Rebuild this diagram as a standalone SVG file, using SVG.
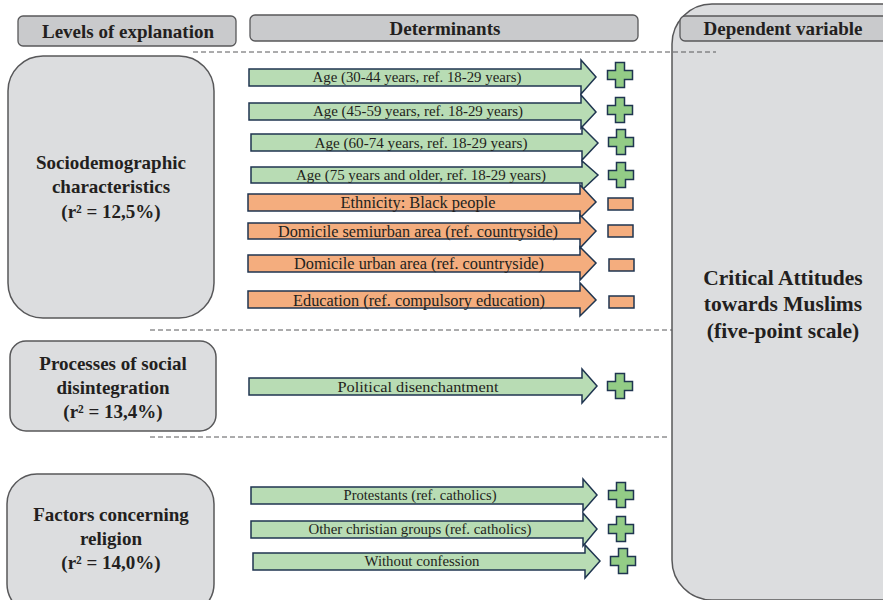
<svg xmlns="http://www.w3.org/2000/svg" width="883" height="600" viewBox="0 0 883 600">
<style>
.bg{fill:#dcdddf;stroke:#58585a;stroke-width:1.5}
.hd{fill:#c9cacc;stroke:#58585a;stroke-width:1.3}
.dash{stroke:#58585a;stroke-width:1;stroke-dasharray:5 3;fill:none}
.ga{fill:#b8dcb4;stroke:#1f3550;stroke-width:1.5;stroke-linejoin:miter}
.oa{fill:#f4ad7e;stroke:#1f3550;stroke-width:1.5;stroke-linejoin:miter}
.plus{fill:#93cc86;stroke:#1f3550;stroke-width:1.5}
.minus{fill:#f4ad7e;stroke:#1f3550;stroke-width:1.5}
.t{font-family:"Liberation Serif","Times New Roman",serif;fill:#231f20;text-anchor:middle}
.b{font-weight:bold}
.s13{font-size:14px}
.s14{font-size:15px}
.s15{font-size:16px}
.h{font-size:19px}
.l{font-size:19px}
.x{font-size:21.5px}
</style>
<defs>
<polygon id="plus" class="plus" points="-4.5,-12.5 4.5,-12.5 4.5,-4.5 12.5,-4.5 12.5,4.5 4.5,4.5 4.5,12.5 -4.5,12.5 -4.5,4.5 -12.5,4.5 -12.5,-4.5 -4.5,-4.5"/>
</defs>

<g id="dependent-variable">
<rect class="bg" x="672" y="4" width="260" height="596" rx="40"/>
<rect class="hd" x="680" y="16" width="215" height="25" rx="5"/>
<text class="t b h" x="783" y="35">Dependent variable</text>
<text class="t b x" x="783" y="285">Critical Attitudes</text>
<text class="t b x" x="783" y="311">towards Muslims</text>
<text class="t b x" x="783" y="338">(five-point scale)</text>
</g>

<g id="header-levels">
<rect class="hd" x="18" y="16" width="218" height="30" rx="5"/>
<text class="t b h" x="128" y="38">Levels of explanation</text>
</g>
<g id="header-determinants">
<rect class="hd" x="250" y="15" width="388" height="26" rx="5"/>
<text class="t b h" x="445" y="35">Determinants</text>
</g>

<g id="connectors">
<line class="dash" x1="193" y1="52" x2="716" y2="52"/>
<line class="dash" x1="150" y1="330" x2="672" y2="330"/>
<line class="dash" x1="150" y1="437" x2="668" y2="437"/>
</g>

<g id="level-sociodemographic">
<rect class="bg" x="8" y="56" width="206" height="262" rx="35"/>
<text class="t b l" x="111" y="169">Sociodemographic</text>
<text class="t b l" x="111" y="193">characteristics</text>
<text class="t b l" x="111" y="218">(r² = 12,5%)</text>
</g>
<g id="level-social-disintegration">
<rect class="bg" x="10" y="341" width="206" height="90" rx="16"/>
<text class="t b l" x="113" y="370">Processes of social</text>
<text class="t b l" x="113" y="394">disintegration</text>
<text class="t b l" x="113" y="418">(r² = 13,4%)</text>
</g>
<g id="level-religion">
<rect class="bg" x="7" y="474" width="207" height="140" rx="30"/>
<text class="t b l" x="111" y="521">Factors concerning</text>
<text class="t b l" x="111" y="545">religion</text>
<text class="t b l" x="111" y="569">(r² = 14,0%)</text>
</g>

<g id="det-age-30-44">
<polygon class="ga" points="249,69 581,69 581,60 596,77 581,94 581,86 249,86"/>
<text class="t s13" x="417" y="82" textLength="209" lengthAdjust="spacingAndGlyphs">Age (30-44 years, ref. 18-29 years)</text>
<use href="#plus" x="620" y="75"/>
</g>
<g id="det-age-45-59">
<polygon class="ga" points="249,103 581,103 581,95 596,112 581,128 581,120 249,120"/>
<text class="t s13" x="418" y="116" textLength="210" lengthAdjust="spacingAndGlyphs">Age (45-59 years, ref. 18-29 years)</text>
<use href="#plus" x="620" y="110"/>
</g>
<g id="det-age-60-74">
<polygon class="ga" points="251,134 582,134 582,127 598,143 582,160 582,151 251,151"/>
<text class="t s13" x="421" y="148" textLength="213" lengthAdjust="spacingAndGlyphs">Age (60-74  years, ref. 18-29 years)</text>
<use href="#plus" x="621" y="142"/>
</g>
<g id="det-age-75">
<polygon class="ga" points="251,167 582,167 582,161 598,175 582,190 582,183 251,183"/>
<text class="t s13" x="421" y="180" textLength="250" lengthAdjust="spacingAndGlyphs">Age (75 years and older, ref. 18-29 years)</text>
<use href="#plus" x="621" y="175"/>
</g>
<g id="det-ethnicity">
<polygon class="oa" points="248,194 580,194 580,185 596,202 580,218 580,211 248,211"/>
<text class="t s15" x="418" y="208" textLength="155" lengthAdjust="spacingAndGlyphs">Ethnicity:  Black people</text>
<rect class="minus" x="608" y="198" width="25" height="12"/>
</g>
<g id="det-semiurban">
<polygon class="oa" points="248,223 580,223 580,215 596,231 580,248 580,239 248,239"/>
<text class="t s15" x="418" y="237" textLength="280" lengthAdjust="spacingAndGlyphs">Domicile semiurban area (ref. countryside)</text>
<rect class="minus" x="608" y="225" width="25" height="12"/>
</g>
<g id="det-urban">
<polygon class="oa" points="248,255 580,255 580,247 596,263 580,280 580,272 248,272"/>
<text class="t s15" x="419" y="269" textLength="250" lengthAdjust="spacingAndGlyphs">Domicile urban area (ref. countryside)</text>
<rect class="minus" x="609" y="259" width="25" height="12"/>
</g>
<g id="det-education">
<polygon class="oa" points="248,291 580,291 580,283 596,300 580,316 580,308 248,308"/>
<text class="t s15" x="419" y="306" textLength="252" lengthAdjust="spacingAndGlyphs">Education (ref. compulsory education)</text>
<rect class="minus" x="609" y="296" width="25" height="12"/>
</g>
<g id="det-political">
<polygon class="ga" points="249,378 582,378 582,369 597,386 582,403 582,395 249,395"/>
<text class="t s14" x="418" y="392" textLength="161" lengthAdjust="spacingAndGlyphs">Political disenchantment</text>
<use href="#plus" x="620" y="386"/>
</g>
<g id="det-protestants">
<polygon class="ga" points="251,487 583,487 583,479 597,495 583,511 583,504 251,504"/>
<text class="t s13" x="420" y="500" textLength="153" lengthAdjust="spacingAndGlyphs">Protestants (ref. catholics)</text>
<use href="#plus" x="621" y="495"/>
</g>
<g id="det-other-christian">
<polygon class="ga" points="251,521 583,521 583,513 597,529 583,546 583,538 251,538"/>
<text class="t s13" x="420" y="534" textLength="223" lengthAdjust="spacingAndGlyphs">Other christian groups (ref. catholics)</text>
<use href="#plus" x="621" y="529"/>
</g>
<g id="det-without-confession">
<polygon class="ga" points="253,553 585,553 585,545 600,561 585,578 585,570 253,570"/>
<text class="t s13" x="422" y="566" textLength="115" lengthAdjust="spacingAndGlyphs">Without confession</text>
<use href="#plus" x="623" y="561"/>
</g>
</svg>
